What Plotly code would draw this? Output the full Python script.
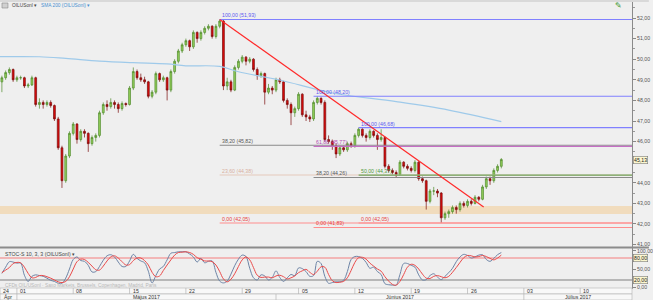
import plotly.graph_objects as go

# ---------------- data ----------------
# 8-hour bars; bar 0 = first bar of Monday 1 May 2017 (15 bars per trading week)
bar_index = list(range(-4, 130))

opens = [48.9, 49.1, 49.35, 49.5, 49.0, 49.1, 49.1, 48.7, 48.75, 49.1,
         47.8, 47.9, 47.8, 47.9, 47.75, 47.1, 45.7, 44.1, 45.3, 46.4,
         46.85, 46.1, 46.5, 46.4, 45.9, 46.2, 46.3, 47.4, 47.8, 47.7,
         47.9, 47.8, 47.6, 47.85, 47.8, 48.6, 49.4, 49.1, 49.0, 48.9,
         48.2, 48.4, 49.3, 49.0, 49.1, 48.5, 49.4, 49.9, 50.4, 50.7,
         50.9, 50.6, 51.3, 51.0, 51.3, 51.5, 51.6, 51.1, 51.6, 51.85,
         48.7, 48.9, 48.5, 49.6, 49.9, 50.1, 49.9, 50.0, 49.5, 49.2,
         49.3, 48.4, 48.6, 48.5, 49.0, 48.9, 48.0, 47.8, 47.4, 47.6,
         48.3, 47.3, 47.2, 47.1, 47.9, 48.1, 47.9, 46.1, 46.0, 45.8,
         45.4, 45.7, 45.6, 45.9, 45.8, 46.3, 46.6, 46.3, 46.2, 46.5,
         46.3, 46.1, 46.2, 44.8, 44.6, 44.5, 44.4, 45.0, 44.8, 44.7,
         44.6, 45.0, 44.2, 44.1, 43.1, 43.6, 43.6, 43.5, 42.3, 42.5,
         42.6, 42.8, 42.7, 43.0, 42.9, 43.1, 43.0, 43.3, 43.2, 43.8,
         44.2, 44.1, 44.6, 44.8]
highs = [49.2, 49.45, 49.6, 49.55, 49.2, 49.2, 49.15, 48.85, 49.2, 49.15,
         48.1, 48.0, 48.0, 48.0, 47.8, 47.2, 45.8, 45.4, 46.5, 46.95,
         46.9, 46.6, 46.6, 46.45, 46.3, 46.4, 47.5, 47.9, 48.0, 48.1,
         48.0, 47.9, 47.95, 47.9, 48.7, 49.6, 49.5, 49.3, 49.15, 48.95,
         48.5, 49.4, 49.35, 49.2, 49.15, 49.5, 50.0, 50.5, 50.8, 51.0,
         50.95, 51.4, 51.35, 51.4, 51.6, 51.7, 51.65, 51.7, 51.93, 51.9,
         49.1, 49.0, 49.7, 50.0, 50.2, 50.15, 50.1, 50.05, 49.6, 49.4,
         49.35, 48.8, 48.7, 49.1, 49.1, 48.95, 48.1, 47.9, 47.7, 48.4,
         48.35, 47.5, 47.3, 48.0, 48.2, 48.15, 48.0, 46.3, 46.1, 45.9,
         45.8, 45.8, 46.0, 46.0, 46.4, 46.68, 46.65, 46.4, 46.6, 46.55,
         46.4, 46.6, 46.25, 44.9, 44.7, 44.6, 45.1, 45.05, 44.9, 44.8,
         45.1, 45.05, 44.3, 44.15, 43.7, 43.8, 43.7, 43.55, 42.6, 42.7,
         42.9, 42.9, 43.1, 43.1, 43.2, 43.2, 43.4, 43.35, 43.9, 44.3,
         44.3, 44.7, 44.9, 45.2]
lows = [48.4, 49.0, 49.25, 48.9, 48.9, 49.0, 48.6, 48.6, 48.7, 47.7,
        47.6, 47.6, 47.7, 47.65, 47.0, 45.6, 43.75, 44.0, 45.2, 46.3,
        45.9, 46.0, 46.2, 45.5, 45.8, 46.0, 46.2, 47.3, 47.5, 47.6,
        47.6, 47.4, 47.5, 47.7, 47.75, 48.5, 49.0, 48.9, 48.8, 48.1,
        48.1, 48.3, 48.9, 48.9, 48.0, 48.4, 49.3, 49.8, 50.3, 50.6,
        50.4, 50.5, 50.8, 50.9, 51.2, 51.4, 51.0, 51.0, 51.5, 48.5,
        48.5, 48.4, 48.45, 49.5, 49.8, 49.7, 49.8, 49.4, 49.0, 49.1,
        47.8, 48.3, 48.3, 48.4, 48.8, 47.9, 47.6, 46.8, 47.2, 47.5,
        47.2, 47.0, 46.95, 47.0, 47.8, 47.8, 46.0, 45.9, 45.6, 45.2,
        45.3, 45.5, 45.5, 45.7, 45.7, 46.2, 46.2, 46.0, 46.1, 46.2,
        45.6, 46.0, 44.7, 44.5, 44.4, 44.25, 44.35, 44.7, 44.6, 44.5,
        44.5, 44.1, 44.0, 42.7, 43.0, 43.4, 43.3, 42.05, 42.2, 42.3,
        42.5, 42.5, 42.6, 42.8, 42.8, 42.9, 42.95, 43.1, 43.15, 43.7,
        43.9, 44.0, 44.5, 44.7]
closes = [49.1, 49.35, 49.5, 49.0, 49.1, 49.1, 48.7, 48.75, 49.1, 47.8,
          47.9, 47.8, 47.9, 47.75, 47.1, 45.7, 44.1, 45.3, 46.4, 46.85,
          46.1, 46.5, 46.4, 45.9, 46.2, 46.3, 47.4, 47.8, 47.7, 47.9,
          47.8, 47.6, 47.85, 47.8, 48.6, 49.4, 49.1, 49.0, 48.9, 48.2,
          48.4, 49.3, 49.0, 49.1, 48.5, 49.4, 49.9, 50.4, 50.7, 50.9,
          50.6, 51.3, 51.0, 51.3, 51.5, 51.6, 51.1, 51.6, 51.85, 48.7,
          48.9, 48.5, 49.6, 49.9, 50.1, 49.9, 50.0, 49.5, 49.2, 49.3,
          48.4, 48.6, 48.5, 49.0, 48.9, 48.0, 47.8, 47.4, 47.6, 48.3,
          47.3, 47.2, 47.1, 47.9, 48.1, 47.9, 46.1, 46.0, 45.8, 45.4,
          45.7, 45.6, 45.9, 45.8, 46.3, 46.6, 46.3, 46.2, 46.5, 46.3,
          46.1, 46.2, 44.8, 44.6, 44.5, 44.4, 45.0, 44.8, 44.7, 44.6,
          45.0, 44.2, 44.1, 43.1, 43.6, 43.6, 43.5, 42.3, 42.5, 42.6,
          42.8, 42.7, 43.0, 42.9, 43.1, 43.0, 43.3, 43.2, 43.8, 44.2,
          44.1, 44.6, 44.8, 45.13]

stoch_k = [38, 55, 70, 69, 66, 66, 33, 16, 30, 34,
           32, 30, 25, 19, 16, 11, 11, 25, 50, 76,
           83, 73, 71, 60, 42, 43, 57, 74, 86, 89,
           83, 69, 57, 57, 72, 90, 79, 72, 67, 44,
           12, 32, 50, 57, 75, 93, 95, 97, 97, 97,
           91, 83, 69, 79, 67, 71, 72, 41, 17, 12,
           17, 36, 59, 77, 88, 84, 52, 26, 20, 34,
           31, 20, 27, 45, 27, 16, 26, 35, 32, 53,
           51, 43, 30, 32, 71, 65, 30, 11, 13, 15,
           15, 19, 43, 76, 84, 84, 79, 68, 52, 55,
           43, 35, 10, 7, 6, 6, 35, 65, 65, 60,
           55, 34, 20, 21, 32, 37, 28, 21, 30, 40,
           52, 70, 83, 90, 87, 80, 83, 88, 89, 76,
           71, 79, 89, 95]
stoch_d = [40, 47, 54, 65, 68, 67, 55, 38, 26, 27,
           32, 32, 29, 25, 20, 15, 13, 16, 29, 50,
           70, 77, 76, 68, 58, 48, 47, 58, 72, 83,
           86, 80, 70, 61, 62, 73, 80, 80, 73, 61,
           41, 29, 31, 46, 61, 75, 88, 95, 96, 97,
           95, 90, 81, 77, 72, 72, 70, 61, 43, 23,
           15, 22, 37, 57, 75, 83, 75, 54, 33, 27,
           28, 28, 26, 31, 33, 29, 23, 26, 31, 40,
           45, 49, 41, 35, 44, 56, 55, 35, 18, 13,
           14, 16, 26, 46, 68, 81, 82, 77, 66, 58,
           50, 44, 29, 17, 8, 6, 16, 35, 55, 63,
           60, 50, 36, 25, 24, 30, 32, 29, 26, 30,
           41, 54, 68, 81, 87, 86, 83, 84, 87, 84,
           79, 75, 80, 88]

sma_bars = [-5, 6, 13, 22, 31, 40, 45, 54, 59, 70, 84, 101, 115, 129]
sma_vals = [50.12, 50.12, 50.04, 49.91, 49.83, 49.77, 49.68, 49.65, 49.39,
            48.99, 48.36, 47.94, 47.53, 46.97]

trend_bars = [54, 124.3]
trend_vals = [51.93, 42.83]

zone_low, zone_high = 42.49, 42.87
last_price = 45.13

fib_a_start = 54
fib_a_pct = [100, 38.2, 23.6, 0]
fib_a_price = [51.93, 45.82, 44.38, 42.05]
fib_b_start = 79
fib_b_pct = [100, 61.8, 38.2, 0]
fib_b_price = [48.20, 45.77, 44.26, 41.83]
fib_c_start = 91
fib_c_pct = [100, 50, 0]
fib_c_price = [46.68, 44.37, 42.05]

price_ticks = [41, 42, 43, 44, 45, 46, 47, 48, 49, 50, 51, 52]
hidden_price_ticks = [45]          # covered by the last-price box in the reference
osc_ticks = [0, 50, 100]
osc_levels = [80, 20]

week_bars = [-15, 0, 15, 30, 45, 60, 75, 90, 105, 120, 135, 150]
week_labels = ["24", "01", "08", "15", "22", "29", "05", "12", "19", "26", "03", "10"]
month_bars = [-15, 0, 69, 135]
month_labels = ["Ápr", "Május 2017", "Június 2017", "Július 2017"]

instrument = "OILUSonl"

# ---------------- styling ----------------
W, H = 653, 300
MR, MB = 17, 12
PW = W - MR
PH = H - MB                      # plot-area height in px
X_RANGE = [-4.5, 163.8]
X_END = 175
Y_RANGE = [40.883, 52.874]
Y2_RANGE = [-1.9, 107.4]
MAIN_DOM = [41 / PH, 1]
OSC_DOM = [0, 40 / PH]
FONT = "Liberation Sans"
FS = 5.2

level_colors = {100: "#8080ff", 61.8: "#c56fc5", 50: "#6fa35a", 38.2: "#8a8a8a",
                23.6: "#e6c9bb", 0: "#ff8d8d"}
label_colors = {100: "#5a5af0", 61.8: "#b04fb0", 50: "#4f9a3a", 38.2: "#555555",
                23.6: "#d9b0a0", 0: "#e84040"}


def fmt(v):
    return f"{v:.2f}".replace(".", ",")


fig = go.Figure()

# SMA 200
fig.add_trace(go.Scatter(x=sma_bars, y=sma_vals, mode="lines", line=dict(color="#9fcaea", width=1.2),
                         hoverinfo="skip", xaxis="x", yaxis="y", line_shape="spline"))

# Fibonacci levels
annotations = []
for start, pcts, prices in [(fib_a_start, fib_a_pct, fib_a_price),
                            (fib_b_start, fib_b_pct, fib_b_price),
                            (fib_c_start, fib_c_pct, fib_c_price)]:
    for p, v in zip(pcts, prices):
        fig.add_trace(go.Scatter(x=[start, X_END], y=[v, v], mode="lines",
                                 line=dict(color=level_colors[p], width=1.1),
                                 hoverinfo="skip", xaxis="x", yaxis="y"))
        annotations.append(dict(x=start, y=v, xref="x", yref="y", xanchor="left", yanchor="bottom",
                                text=f"{fmt(p)} ({fmt(v)})", showarrow=False, yshift=-1,
                                font=dict(size=FS, color=label_colors[p], family=FONT)))

# candles
fig.add_trace(go.Candlestick(x=bar_index, open=opens, high=highs, low=lows, close=closes,
                             increasing=dict(line=dict(color="#4f8a2b", width=0.7), fillcolor="#93d05a"),
                             decreasing=dict(line=dict(color="#7a0b0b", width=0.7), fillcolor="#dc0a0a"),
                             whiskerwidth=0, hoverinfo="skip", xaxis="x", yaxis="y"))

# trend line
fig.add_trace(go.Scatter(x=trend_bars, y=trend_vals, mode="lines", line=dict(color="#ff2a2a", width=1.2),
                         hoverinfo="skip", xaxis="x", yaxis="y"))

# stochastic
fig.add_trace(go.Scatter(x=bar_index, y=stoch_k, mode="lines", line=dict(color="#6d84a6", width=1),
                         line_shape="spline", hoverinfo="skip", xaxis="x2", yaxis="y2"))
fig.add_trace(go.Scatter(x=bar_index, y=stoch_d, mode="lines", line=dict(color="#ea4a4a", width=1),
                         line_shape="spline", hoverinfo="skip", xaxis="x2", yaxis="y2"))

shapes = []
# support zone
shapes.append(dict(type="rect", xref="paper", yref="y", x0=0, x1=1, y0=zone_low, y1=zone_high,
                   fillcolor="#f1dcbd", line=dict(width=0), layer="below"))
# oscillator levels
shapes.append(dict(type="line", xref="paper", yref="y2", x0=0, x1=1, y0=osc_levels[0], y1=osc_levels[0],
                   line=dict(color="#f3a3a3", width=1.5), layer="below"))
shapes.append(dict(type="line", xref="paper", yref="y2", x0=0, x1=1, y0=osc_levels[1], y1=osc_levels[1],
                   line=dict(color="#a5a5a5", width=1.5), layer="below"))
# panel separator
shapes.append(dict(type="line", xref="paper", yref="paper", x0=0, x1=W / PW, y0=40.5 / PH, y1=40.5 / PH,
                   line=dict(color="#8c8c8c", width=2)))
# top header strip
shapes.append(dict(type="rect", xref="paper", yref="paper", x0=0, x1=W / PW, y0=1 - 2 / PH, y1=1,
                   fillcolor="#d9d9d9", line=dict(width=0)))
# small instrument icon
shapes.append(dict(type="rect", xref="paper", yref="paper", x0=2 / PW, x1=8 / PW,
                   y0=1 - 8 / PH, y1=1 - 3 / PH, fillcolor="#d0d0d0", line=dict(color="#888", width=0.6)))
# date strip rows
for r in range(2):
    shapes.append(dict(type="rect", xref="paper", yref="paper", x0=0, x1=1,
                       y0=-(6 * (r + 1)) / PH, y1=-(6 * r) / PH,
                       fillcolor="#f8f8f8", line=dict(color="#b4b4b4", width=0.6)))
for wb in week_bars:
    shapes.append(dict(type="line", xref="x2", yref="paper", x0=wb, x1=wb, y0=-6 / PH, y1=0,
                       line=dict(color="#b4b4b4", width=0.7)))
for mb in month_bars:
    shapes.append(dict(type="line", xref="x2", yref="paper", x0=mb, x1=mb, y0=-12 / PH, y1=-6 / PH,
                       line=dict(color="#b4b4b4", width=0.7)))

# date labels
for wb, lab in zip(week_bars, week_labels):
    if wb < X_RANGE[0]:
        annotations.append(dict(x=0, xref="paper", y=-3 / PH, yref="paper", xanchor="left", yanchor="middle",
                                text=lab, showarrow=False, xshift=1, font=dict(size=FS, color="#333", family=FONT)))
    else:
        annotations.append(dict(x=wb, xref="x2", y=-3 / PH, yref="paper", xanchor="left", yanchor="middle",
                                text=lab, showarrow=False, xshift=1, font=dict(size=FS, color="#333", family=FONT)))
m_edges = [max(b, X_RANGE[0]) for b in month_bars] + [X_RANGE[1]]
for i, lab in enumerate(month_labels):
    annotations.append(dict(x=(m_edges[i] + m_edges[i + 1]) / 2, xref="x2", y=-9 / PH, yref="paper",
                            xanchor="center", yanchor="middle", text=lab, showarrow=False,
                            font=dict(size=FS, color="#333", family=FONT)))

# headers
annotations.append(dict(x=10 / PW, y=1 - 5.5 / PH, xref="paper", yref="paper", xanchor="left",
                        yanchor="middle", text=f"{instrument} ▾", showarrow=False,
                        font=dict(size=4.8, color="#444", family=FONT)))
annotations.append(dict(x=39 / PW, y=1 - 5.5 / PH, xref="paper", yref="paper", xanchor="left",
                        yanchor="middle", text=f"SMA 200 ({instrument}) ▾", showarrow=False,
                        font=dict(size=4.8, color="#4a90d0", family=FONT)))
annotations.append(dict(x=622 / PW, y=1 - 5.5 / PH, xref="paper", yref="paper", xanchor="center",
                        yanchor="middle", text="✎", showarrow=False,
                        font=dict(size=8, color="#3c9a30", family="DejaVu Sans")))
annotations.append(dict(x=3 / PW, y=(PH - 254) / PH, xref="paper", yref="paper", xanchor="left",
                        yanchor="middle", text=f"STOC-S 10, 3, 3 ({instrument}) ▾", showarrow=False,
                        font=dict(size=FS, color="#444", family=FONT)))
annotations.append(dict(x=3 / PW, y=(PH - 285) / PH, xref="paper", yref="paper", xanchor="left",
                        yanchor="middle", text="CFDs OIL/USonl · Saxo Markets, Brussels, Copenhagen, Madrid, Paris",
                        showarrow=False, font=dict(size=FS - 0.4, color="#b8b8b8", family=FONT)))

# boxed value labels on right axis
annotations.append(dict(x=1, xref="paper", y=last_price, yref="y", xanchor="left", yanchor="middle",
                        text=fmt(last_price), showarrow=False, xshift=1, bgcolor="#fbf6cf",
                        bordercolor="#7a7a7a", borderwidth=0.6, borderpad=0.5,
                        font=dict(size=FS, color="#222", family=FONT)))
for lv in osc_levels:
    annotations.append(dict(x=1, xref="paper", y=lv, yref="y2", xanchor="left", yanchor="middle",
                            text=fmt(lv), showarrow=False, xshift=1, bgcolor="#fbf6cf",
                            bordercolor="#7a7a7a", borderwidth=0.6, borderpad=0.5,
                            font=dict(size=FS, color="#222", family=FONT)))

axis_font = dict(size=FS, color="#555", family=FONT)
fig.update_layout(
    width=W, height=H, margin=dict(l=0, r=MR, t=0, b=MB, pad=0),
    paper_bgcolor="#f0f0f0", plot_bgcolor="#efefef",
    showlegend=False, separators=", ", hovermode=False,
    shapes=shapes, annotations=annotations,
    xaxis=dict(domain=[0, 1], range=X_RANGE, anchor="y", showticklabels=False, showgrid=False,
               zeroline=False, showline=False, ticks="", rangeslider=dict(visible=False)),
    xaxis2=dict(domain=[0, 1], range=X_RANGE, anchor="y2", matches="x", showticklabels=False,
                showgrid=False, zeroline=False, showline=True, linecolor="#9a9a9a", ticks=""),
    yaxis=dict(domain=MAIN_DOM, range=Y_RANGE, side="right", anchor="x", tickmode="array",
               tickvals=price_ticks,
               ticktext=["" if t in hidden_price_ticks else fmt(t) for t in price_ticks],
               ticks="outside", ticklen=3, tickcolor="#888", tickfont=axis_font,
               showline=True, linecolor="#8a8a8a", showgrid=False, zeroline=False,
               minor=dict(ticks="outside", ticklen=2, dtick=0.5, tick0=0, tickcolor="#999")),
    yaxis2=dict(domain=OSC_DOM, range=Y2_RANGE, side="right", anchor="x2", tickmode="array",
                tickvals=osc_ticks, ticktext=[fmt(t) for t in osc_ticks], ticks="outside", ticklen=3,
                tickcolor="#888", tickfont=axis_font, showline=True, linecolor="#8a8a8a",
                showgrid=False, zeroline=False),
)

fig.write_html("out.html")
